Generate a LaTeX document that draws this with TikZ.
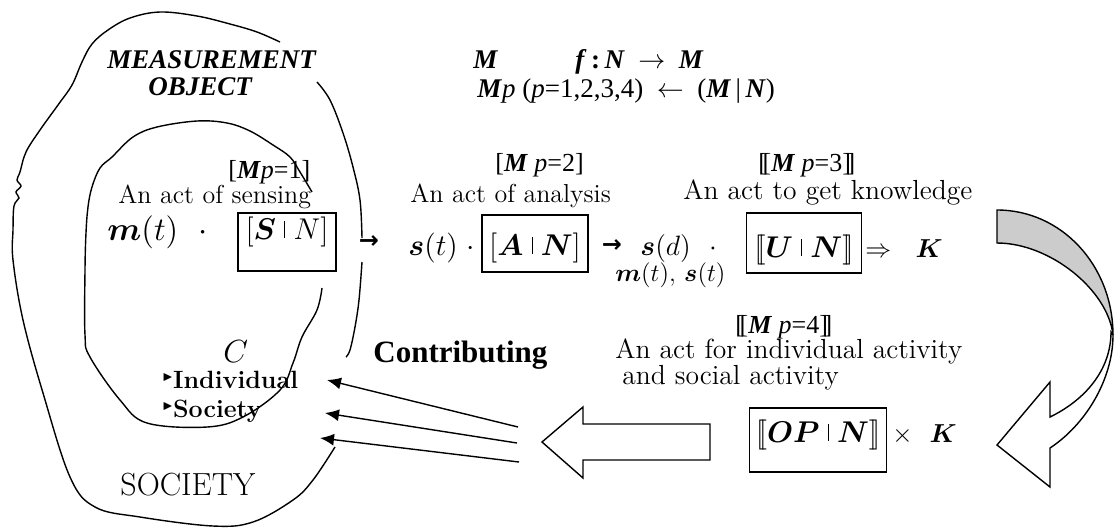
\RequirePackage{fix-cm}
\documentclass[tikz,border=0pt]{standalone}
\usepackage{amsmath}
\usepackage{amssymb}
\usepackage{fontspec}
\usetikzlibrary{arrows.meta}
\newfontfamily\tnr{Liberation Serif}
\newfontfamily\djv{DejaVu Sans}
\newcommand{\bsym}[1]{\boldsymbol{#1}}
\newcommand{\lbb}{[\kern-0.17em[}
\newcommand{\rbb}{]\kern-0.17em]}
\newcommand{\sepbar}{\rule[0.05em]{0.4pt}{0.55em}}
\newcommand{\tbi}[1]{\textbf{\textit{#1}}}
\newcommand{\tri}{\raisebox{0.3em}{\fontsize{6}{7}\selectfont$\blacktriangleright$}}

\begin{document}
\begin{tikzpicture}[x=0.5pt,y=-0.5pt,
    blob/.style={line width=0.7pt},
    txt/.style={font=\fontsize{13}{15}\selectfont, inner sep=0pt, anchor=base west},
    lab/.style={font=\fontsize{13}{15}\selectfont\tnr, inner sep=0pt, anchor=base west},
    eq/.style={font=\fontsize{15}{17}\selectfont, inner sep=0pt, anchor=base west},
    actbox/.style={draw, line width=0.7pt, inner sep=0pt, anchor=base,
                   font=\fontsize{15}{17}\selectfont},
    step arrow/.style={font=\fontsize{12}{14}\selectfont\djv\bfseries, inner sep=0pt},
    feed/.style={-{Latex[length=7pt,width=6pt]}, line width=0.7pt}]

\useasboundingbox (0,0) rectangle (1115,527);

%---------------------------------------
% Society and measurement object
%---------------------------------------
\draw[blob] plot[smooth, tension=0.6] coordinates {
  (280,42) (257,32) (230,24) (197,16) (160,12) (130,18) (108,30) (92,44)
  (82,62) (72,85) (58,105) (40,130) (26,152) (20,172) (17,180) (21,186)
  (16,192) (19,198) (14,206) (13,230) (13,260) (23,320) (43,393) (70,477)
  (95,507) (140,517) (213,526) (253,522) (293,500) (313,480) (335,447)};
\draw[blob] plot[smooth, tension=0.6] coordinates {
  (317,82) (330,100) (343,133) (353,167) (360,200) (362,238)};
\draw[blob] plot[smooth, tension=0.6] coordinates {
  (362,262) (359,300) (355,327) (350,350) (346,357)};

% inner region (contribution C)
\draw[blob] plot[smooth, tension=0.6] coordinates {
  (312,192) (300,172) (290,157) (273,145) (250,131) (227,123) (197,121)
  (157,127) (133,137) (112,157) (100,168) (92,187) (88,207) (86,233)
  (85,270) (85,335) (90,357) (120,400) (147,423) (207,427) (243,417)
  (280,390) (293,363) (302,337) (317,310) (322,288)};

\node[font=\fontsize{13.5}{15}\selectfont\tnr\bfseries\itshape, inner sep=0pt,
      anchor=base west] (meas) at (107,68) {MEASUREMENT};
\node[font=\fontsize{13.5}{15}\selectfont\tnr\bfseries\itshape, inner sep=0pt,
      anchor=base west] (obj) at (148,95) {OBJECT};
\node[txt, font=\fontsize{16}{18}\selectfont] (society) at (120,495) {SOCIETY};

\node[eq, font=\fontsize{16}{18}\selectfont] (cset) at (223,362) {$C$};
\node[txt, font=\fontsize{12.5}{14}\selectfont\bfseries] (indiv) at (162,388)
  {\tri Individual};
\node[txt, font=\fontsize{12.5}{14}\selectfont\bfseries] (soc) at (162,417)
  {\tri Society};

%---------------------------------------
% Mapping
%---------------------------------------
\node[lab, font=\fontsize{13.5}{15}\selectfont\tnr] (fm) at (473,68) {\tbi{M}};
\node[lab, font=\fontsize{13.5}{15}\selectfont\tnr] (ffun) at (575,68)
  {\tbi{f}\,\textbf{:}\,\tbi{N}~~$\rightarrow$~~\tbi{M}};
\node[lab, font=\fontsize{13.5}{15}\selectfont\tnr] (fmp) at (477,97)
  {\tbi{M}\textit{p} (\textit{p}=1,2,3,4)~~$\leftarrow$~~(\tbi{M}\,|\,\tbi{N})};

%---------------------------------------
% Acts p=1,2,3
%---------------------------------------
\node[lab] (lab1) at (228,178) {[\tbi{M}\textit{p}=1]};
\node[txt] (act1) at (118,203) {An act of sensing};
\node[lab] (lab2) at (495,171) {[\tbi{M} \textit{p}=2]};
\node[txt] (act2) at (410,202) {An act of analysis};
\node[lab] (lab3) at (758,171) {\lbb\tbi{M} \textit{p}=3\rbb};
\node[txt, font=\fontsize{13.8}{15}\selectfont] (act3) at (683,199) {An act to get knowledge};

\node[eq, font=\fontsize{16.5}{18}\selectfont] (mt) at (107,240) {$\bsym{m}(t)\ \ \cdot$};
\node[actbox, minimum width=49pt, text height=13pt, text depth=16pt]
  (sn) at (287,239) {$[\bsym{S}\;\sepbar\;N]$};
\node[step arrow] (ar1) at (369,242) {→};

\node[eq] (st) at (408,255) {$\bsym{s}(t)\ \cdot$};
\node[actbox, minimum width=53pt, text height=20pt, text depth=8.5pt]
  (an) at (535,255) {$[\bsym{A}\;\sepbar\;\bsym{N}]$};
\node[step arrow] (ar2) at (612,246) {→};

\node[eq, font=\fontsize{14}{16}\selectfont] (sd) at (640,255) {$\bsym{s}(d)\ \ \cdot$};
\node[eq, font=\fontsize{12.5}{14}\selectfont] (mtst) at (615,281) {$\bsym{m}(t),\,\bsym{s}(t)$};
\node[actbox, minimum width=57.5pt, text height=22pt, text depth=8pt]
  (un) at (804,257) {$\lbb\bsym{U}\;\sepbar\;\bsym{N}\rbb$};
\node[eq, font=\fontsize{13}{15}\selectfont] (impk) at (865,257)
  {$\Rightarrow\ \ \bsym{K}$};

%---------------------------------------
% Act p=4
%---------------------------------------
\node[lab] (lab4) at (735,333) {\lbb\tbi{M} \textit{p}=4\rbb};
\node[txt, font=\fontsize{13.8}{15}\selectfont] (act4) at (615,358) {An act for individual activity};
\node[txt, font=\fontsize{13.8}{15}\selectfont] (act4b) at (622,384) {and social activity};
\node[actbox, minimum width=68.5pt, text height=17pt, text depth=15pt]
  (opn) at (818,442) {$\lbb\bsym{OP}\;\sepbar\;\bsym{N}\rbb$};
\node[eq, font=\fontsize{13}{15}\selectfont] (timesk) at (892,442)
  {$\times\ \ \bsym{K}$};

%---------------------------------------
% Curved arrow K -> p=4
%---------------------------------------
\filldraw[fill=gray!40, line width=0.7pt]
  (997,210) .. controls (1062,210) and (1113,266) .. (1113,335)
  .. controls (1108,290) and (1050,243) .. (997,243) -- cycle;
\filldraw[fill=white, line width=0.7pt]
  (1111,332) .. controls (1111,370) and (1085,400) .. (1050,417)
  -- (1050,382) -- (997,445) -- (1050,487) -- (1050,448)
  .. controls (1085,425) and (1113,380) .. (1113,335) -- cycle;

%---------------------------------------
% Contributing to society
%---------------------------------------
\draw[line width=0.7pt] (710,424) -- (583,424) -- (583,407) -- (542,442)
  -- (583,478) -- (583,460) -- (710,460) -- cycle;

\node[font=\fontsize{15.5}{17}\selectfont\tnr\bfseries, inner sep=0pt,
      anchor=base west] (contrib) at (373,362) {Contributing};

\coordinate (f1) at (518,427);
\coordinate (f2) at (517,443);
\coordinate (f3) at (519,462);
\coordinate (t1) at (327,380);
\coordinate (t2) at (325,413);
\coordinate (t3) at (320,438);
\draw[feed] (f1) -- (t1);
\draw[feed] (f2) -- (t2);
\draw[feed] (f3) -- (t3);

\end{tikzpicture}
\end{document}
